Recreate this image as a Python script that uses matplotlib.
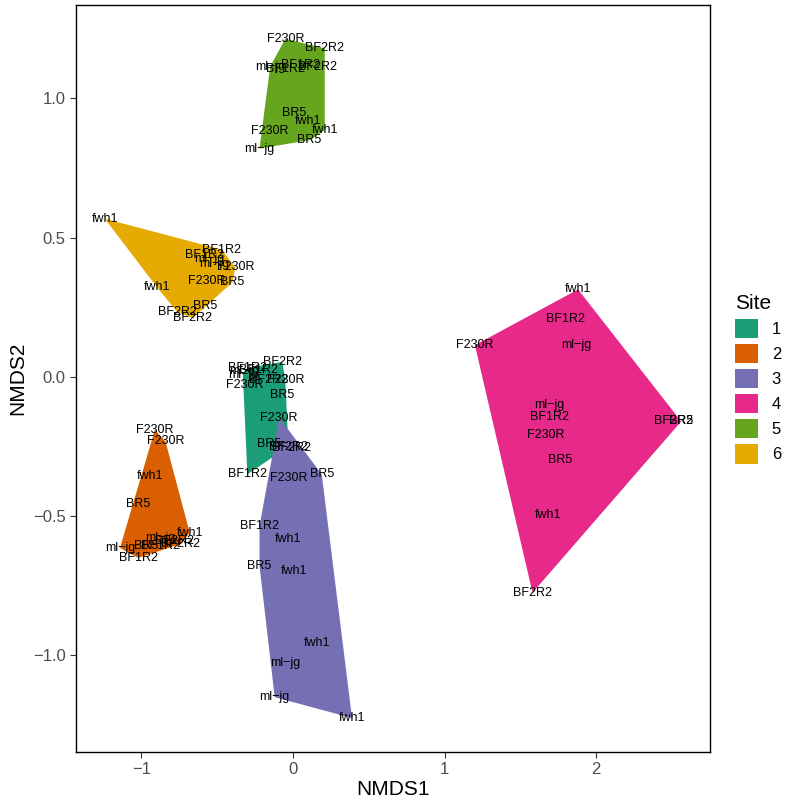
import numpy as np
import matplotlib
matplotlib.use("Agg")
import matplotlib.pyplot as plt
from matplotlib.patches import Patch

plt.rcParams["font.family"] = ["Liberation Sans", "DejaVu Sans"]

# NMDS scores per sample, grouped by site
site = [1] * 12 + [2] * 12 + [3] * 12 + [4] * 12 + [5] * 12 + [6] * 12
sample = [
    # site 1
    "BF2R2", "BF1R2", "BF1R2", "ml-jg", "BF2R2", "F230R", "F230R", "BR5", "BR5", "BF2R2", "BF1R2", "ml-jg",
    # site 2
    "F230R", "F230R", "fwh1", "BR5", "fwh1", "ml-jg", "BF2R2", "BF2R2", "BR5", "ml-jg", "BF1R2", "BF1R2",
    # site 3
    "F230R", "BF2R2", "F230R", "BR5", "BF1R2", "fwh1", "BR5", "fwh1", "fwh1", "ml-jg", "ml-jg", "fwh1",
    # site 4
    "fwh1", "BF1R2", "F230R", "ml-jg", "ml-jg", "BF1R2", "F230R", "BR5", "fwh1", "BF2R2", "BF2R2", "BR5",
    # site 5
    "F230R", "BF2R2", "ml-jg", "BF1R2", "BF1R2", "BF2R2", "BR5", "fwh1", "fwh1", "F230R", "BR5", "ml-jg",
    # site 6
    "fwh1", "BF1R2", "BF1R2", "ml-jg", "ml-jg", "F230R", "F230R", "BR5", "fwh1", "BR5", "BF2R2", "BF2R2",
]
nmds1 = [
    -0.07, -0.30, -0.23, -0.33, -0.16, -0.32, -0.05, -0.07, -0.16, -0.03, -0.30, -0.32,
    -0.91, -0.84, -0.94, -1.02, -0.68, -0.875, -0.78, -0.74, -0.97, -1.14, -1.02, -0.875,
    -0.09, -0.01, -0.03, 0.19, -0.22, -0.03, -0.22, 0.01, 0.16, -0.05, -0.12, 0.39,
    1.88, 1.80, 1.20, 1.87, 1.69, 1.69, 1.67, 1.76, 1.68, 1.58, 2.51, 2.56,
    -0.05, 0.21, -0.15, -0.05, 0.05, 0.16, 0.01, 0.10, 0.21, -0.15, 0.11, -0.22,
    -1.24, -0.47, -0.58, -0.55, -0.52, -0.38, -0.57, -0.40, -0.895, -0.58, -0.76, -0.66,
]
nmds2 = [
    0.054, 0.032, 0.025, 0.007, -0.011, -0.029, -0.011, -0.064, -0.24, -0.25, -0.35, 0.02,
    -0.19, -0.232, -0.357, -0.457, -0.56, -0.579, -0.589, -0.60, -0.607, -0.614, -0.65, -0.607,
    -0.146, -0.257, -0.364, -0.35, -0.536, -0.582, -0.679, -0.696, -0.954, -1.029, -1.15, -1.225,
    0.314, 0.207, 0.114, 0.114, -0.10, -0.143, -0.207, -0.30, -0.496, -0.775, -0.16, -0.16,
    1.214, 1.18, 1.114, 1.107, 1.12, 1.114, 0.946, 0.92, 0.886, 0.882, 0.85, 0.82,
    0.568, 0.457, 0.436, 0.425, 0.404, 0.393, 0.346, 0.339, 0.321, 0.254, 0.232, 0.211,
]
site_names = ["1", "2", "3", "4", "5", "6"]
site_colors = ["#1B9E77", "#D95F02", "#7570B3", "#E7298A", "#66A61E", "#E6AB02"]

site = np.array(site)
nmds1 = np.array(nmds1)
nmds2 = np.array(nmds2)


def hull(pts):
    pts = sorted(set(map(tuple, pts)))
    if len(pts) < 3:
        return pts

    def cross(o, a, b):
        return (a[0] - o[0]) * (b[1] - o[1]) - (a[1] - o[1]) * (b[0] - o[0])

    lower, upper = [], []
    for p in pts:
        while len(lower) >= 2 and cross(lower[-2], lower[-1], p) <= 0:
            lower.pop()
        lower.append(p)
    for p in reversed(pts):
        while len(upper) >= 2 and cross(upper[-2], upper[-1], p) <= 0:
            upper.pop()
        upper.append(p)
    return lower[:-1] + upper[:-1]


fig = plt.figure(figsize=(8.0, 8.06), dpi=100)
ax = fig.add_axes([0.095, 0.067, 0.7925, 0.927])

for i, name in enumerate(site_names):
    m = site == int(name)
    h = np.array(hull(np.column_stack([nmds1[m], nmds2[m]])))
    ax.fill(h[:, 0], h[:, 1], color=site_colors[i], lw=0, zorder=1)

for x, y, s in zip(nmds1, nmds2, sample):
    ax.text(x, y, s.replace("-", "\u2212"), ha="center", va="center", fontsize=9, color="black", zorder=3)

# ggplot-style 5% expansion
ax.margins(0.05)
ax.set_xticks([-1, 0, 1, 2])
ax.set_yticks([-1.0, -0.5, 0.0, 0.5, 1.0])
ax.set_xticklabels(["\u22121", "0", "1", "2"])
ax.set_yticklabels(["\u22121.0", "\u22120.5", "0.0", "0.5", "1.0"])
ax.tick_params(colors="#333333", labelsize=12, length=4, width=0.8)
ax.tick_params(labelcolor="#4D4D4D")
for sp in ax.spines.values():
    sp.set_color("black")
    sp.set_linewidth(1.0)
ax.set_xlabel("NMDS1", fontsize=15, labelpad=2)
ax.set_ylabel("NMDS2", fontsize=15, labelpad=4)

handles = [Patch(facecolor=c, edgecolor="none") for c in site_colors]
leg = fig.legend(handles, site_names, title="Site", loc="center left",
                 bbox_to_anchor=(0.9, 0.53), frameon=False, fontsize=12,
                 title_fontsize=15, handlelength=1.4, handleheight=1.4,
                 handletextpad=0.8, labelspacing=0.35)
leg._legend_box.align = "left"

fig.savefig("out.png", dpi=100)
